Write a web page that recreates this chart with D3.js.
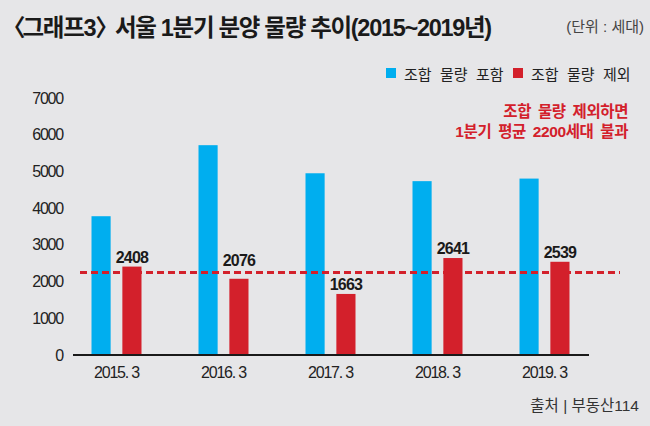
<!DOCTYPE html>
<html>
<head>
<meta charset="utf-8">
<script src="https://cdn.jsdelivr.net/npm/d3@7"></script>
<style>
  body { margin: 0; background: #e6e6e8; }
  svg { display: block; }
  text { font-family: "Liberation Sans", "Noto Sans CJK KR", sans-serif; }
</style>
</head>
<body>
<svg id="chart" width="650" height="426"></svg>
<script>
// chart data
var years = ["2015. 3", "2016. 3", "2017. 3", "2018. 3", "2019. 3"];
var withUnion = [3780, 5715, 4950, 4735, 4805];
var withoutUnion = [2408, 2076, 1663, 2641, 2539];
var seriesNames = ["조합 물량 포함", "조합 물량 제외"];
var yTicks = [0, 1000, 2000, 3000, 4000, 5000, 6000, 7000];
var avgValue = 2250;

var blue = "#00aeef";
var red = "#d3202b";

var svg = d3.select("#chart");
svg.append("rect").attr("width", 650).attr("height", 426).attr("fill", "#e6e6e8");

// scales
var y = d3.scaleLinear().domain([0, 7000]).range([355, 98]);
var x0 = d3.scaleBand().domain(years).range([63, 598]);
var groupWidth = 50;
var x1 = d3.scaleBand().domain(["a", "b"])
    .range([x0.bandwidth() / 2 - groupWidth / 2, x0.bandwidth() / 2 + groupWidth / 2])
    .paddingInner(0.38);

// title (full-width brackets tightened a bit)
var title = svg.append("text")
    .attr("x", 2).attr("y", 36)
    .attr("font-size", 23.5).attr("font-weight", "bold")
    .attr("letter-spacing", -1.3)
    .attr("fill", "#1a1a1a");
title.append("tspan").attr("letter-spacing", -3).text("〈");
title.append("tspan").text("그래프3");
title.append("tspan").attr("letter-spacing", -9).text("〉");
title.append("tspan").text(" 서울 1분기 분양 물량 추이(2015~2019년)");

svg.append("text")
    .attr("x", 644).attr("y", 32)
    .attr("text-anchor", "end")
    .attr("font-size", 15)
    .attr("fill", "#444")
    .text("(단위 : 세대)");

// y axis (labels only)
var yAxis = d3.axisLeft(y).tickValues(yTicks).tickSize(0).tickPadding(0).tickFormat(d3.format("d"));
var gy = svg.append("g").attr("transform", "translate(63,0)").call(yAxis);
gy.select(".domain").remove();
gy.selectAll("text")
    .attr("font-size", 16)
    .attr("letter-spacing", -1.2)
    .attr("fill", "#222")
    .style("font-family", "'Liberation Sans', sans-serif");

// bars
var groups = svg.selectAll(".grp")
    .data(years.map(function(d, i) { return {year: d, a: withUnion[i], b: withoutUnion[i]}; }))
    .enter().append("g")
    .attr("class", "grp")
    .attr("transform", function(d) { return "translate(" + x0(d.year) + ",0)"; });

groups.append("rect")
    .attr("x", x1("a"))
    .attr("width", x1.bandwidth())
    .attr("y", function(d) { return y(d.a); })
    .attr("height", function(d) { return y(0) - y(d.a); })
    .attr("fill", blue);

groups.append("rect")
    .attr("x", x1("b"))
    .attr("width", x1.bandwidth())
    .attr("y", function(d) { return y(d.b); })
    .attr("height", function(d) { return y(0) - y(d.b); })
    .attr("fill", red);

// x axis
var xAxis = d3.axisBottom(x0).tickSize(0).tickPadding(0);
var gx = svg.append("g").attr("transform", "translate(0," + y(0) + ")").call(xAxis);
gx.select(".domain").remove();
gx.selectAll("text")
    .attr("y", 23)
    .attr("dy", 0)
    .attr("font-size", 16)
    .attr("letter-spacing", -1.2)
    .attr("fill", "#222");
svg.append("line")
    .attr("x1", 73).attr("x2", 589)
    .attr("y1", y(0)).attr("y2", y(0))
    .attr("stroke", "#1a1a1a").attr("stroke-width", 2);

// average dashed line
var avgY = y(avgValue);
svg.append("line")
    .attr("x1", 80).attr("x2", 620)
    .attr("y1", avgY).attr("y2", avgY)
    .attr("stroke", red).attr("stroke-width", 3)
    .attr("stroke-dasharray", "7,4");

// value labels on red bars (pushed above the dashed line where they would cross it)
groups.append("text")
    .attr("x", x1("b") + x1.bandwidth() / 2)
    .attr("y", function(d) {
        var ly = y(d.b) - 4;
        if (ly > avgY - 4 && ly - 11 < avgY + 2) ly = avgY - 6;
        return ly;
    })
    .attr("text-anchor", "middle")
    .attr("font-size", 16).attr("font-weight", "bold")
    .attr("letter-spacing", -0.8)
    .attr("fill", "#1a1a1a")
    .text(function(d) { return d.b; });

// legend
var legend = svg.append("g");
var legendX = [386, 513];
[blue, red].forEach(function(c, i) {
    legend.append("rect")
        .attr("x", legendX[i]).attr("y", 68)
        .attr("width", 10).attr("height", 10)
        .attr("fill", c);
    legend.append("text")
        .attr("x", legendX[i] + 18).attr("y", 80)
        .attr("font-size", 15)
        .attr("word-spacing", 5)
        .attr("fill", "#222")
        .style("font-family", "'Noto Sans CJK KR', sans-serif")
        .text(seriesNames[i]);
});

// annotation
var note = ["조합 물량 제외하면", "1분기 평균 2200세대 불과"];
svg.selectAll(".note")
    .data(note).enter()
    .append("text")
    .attr("class", "note")
    .attr("x", 628)
    .attr("y", function(d, i) { return 117 + i * 19.5; })
    .attr("text-anchor", "end")
    .attr("font-size", 15.5).attr("font-weight", "bold")
    .attr("word-spacing", 3)
    .attr("letter-spacing", -0.4)
    .attr("fill", red)
    .text(function(d) { return d; });

// source
svg.append("text")
    .attr("x", 639).attr("y", 411)
    .attr("text-anchor", "end")
    .attr("font-size", 15.5)
    .attr("fill", "#333")
    .text("출처 | 부동산114");
</script>
</body>
</html>
